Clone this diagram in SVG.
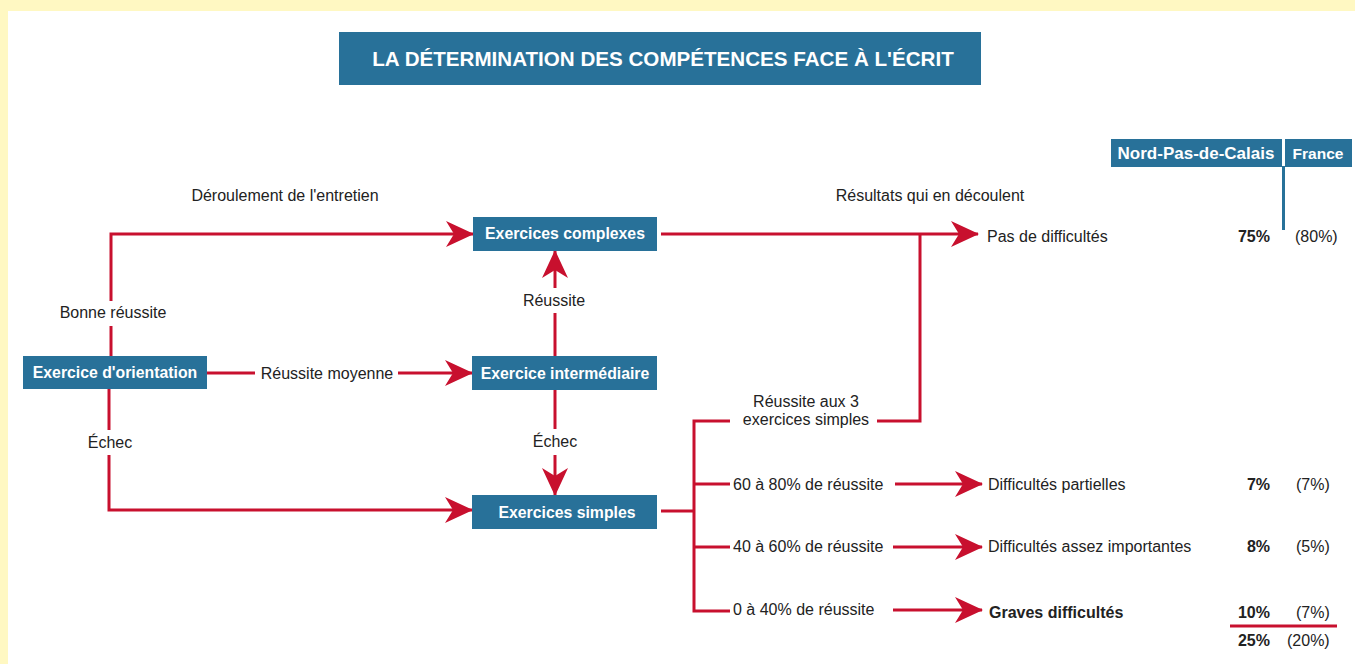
<svg xmlns="http://www.w3.org/2000/svg" width="1355" height="664" viewBox="0 0 1355 664">
<style>
.box{fill:#287199}
.nt{font-family:"Liberation Sans",Arial,sans-serif;font-weight:bold;font-size:15.8px;fill:#fff;text-anchor:middle}
.lb{font-family:"Liberation Sans",Arial,sans-serif;font-size:16px;fill:#222}
.mid{text-anchor:middle}
.b{font-weight:bold}
.ln{stroke:#c8102e;stroke-width:3;fill:none}
.ar{stroke:#c8102e;stroke-width:3;fill:none;marker-end:url(#ah)}
</style>
<defs>
<marker id="ah" viewBox="0 0 28 26" refX="27" refY="13" markerWidth="28" markerHeight="26" markerUnits="userSpaceOnUse" orient="auto">
<path d="M0,0 L28,13 L0,26 L8,13 Z" fill="#c8102e"/>
</marker>
</defs>
<rect x="0" y="0" width="1355" height="664" fill="#fff8c2"/>
<rect x="8" y="11" width="1347" height="653" fill="#fff"/>

<g id="title">
<rect class="box" x="339" y="32" width="642" height="53"/>
<text x="663" y="66" font-family="Liberation Sans,Arial,sans-serif" font-weight="bold" font-size="20.6" fill="#fff" text-anchor="middle">LA DÉTERMINATION DES COMPÉTENCES FACE À L'ÉCRIT</text>
</g>

<g id="headers">
<text class="lb mid" x="285" y="201">Déroulement de l'entretien</text>
<text class="lb mid" x="930" y="201">Résultats qui en découlent</text>
<rect class="box" x="1111" y="139" width="171" height="28"/>
<rect class="box" x="1285" y="139" width="67" height="28"/>
<rect class="box" x="1282" y="166" width="3" height="64"/>
<text x="1196" y="159" font-family="Liberation Sans,Arial,sans-serif" font-weight="bold" font-size="17" fill="#fff" text-anchor="middle">Nord-Pas-de-Calais</text>
<text x="1318" y="159" font-family="Liberation Sans,Arial,sans-serif" font-weight="bold" font-size="15.5" fill="#fff" text-anchor="middle">France</text>
</g>

<g id="connectors">
<path class="ln" d="M111,356 V326"/>
<path class="ar" d="M111,301 V234 H473"/>
<path class="ln" d="M109,389 V430"/>
<path class="ar" d="M109,455 V510 H472"/>
<path class="ln" d="M207,373 H255"/>
<path class="ar" d="M398,373 H472"/>
<path class="ln" d="M555,356 V313"/>
<path class="ar" d="M555,288 V251"/>
<path class="ln" d="M555,390 V429"/>
<path class="ar" d="M555,455 V495"/>
<path class="ar" d="M661,234 H978"/>
<path class="ln" d="M920,234 V421 H877"/>
<path class="ln" d="M661,511 H694"/>
<path class="ln" d="M730,421 H694 V611 H730"/>
<path class="ln" d="M694,484 H730"/>
<path class="ln" d="M694,547 H730"/>
<path class="ar" d="M895,484 H982"/>
<path class="ar" d="M893,547 H982"/>
<path class="ar" d="M893,610 H982"/>
<path d="M1230,626 H1337" stroke="#c8102e" stroke-width="3"/>
</g>

<g id="labels">
<text class="lb mid" x="113" y="318">Bonne réussite</text>
<text class="lb mid" x="110" y="448">Échec</text>
<text class="lb mid" x="327" y="379">Réussite moyenne</text>
<text class="lb mid" x="554" y="306">Réussite</text>
<text class="lb mid" x="555" y="447">Échec</text>
<text class="lb mid" x="806" y="407">Réussite aux 3</text>
<text class="lb mid" x="806" y="425">exercices simples</text>
<text class="lb" x="733" y="490">60 à 80% de réussite</text>
<text class="lb" x="733" y="552">40 à 60% de réussite</text>
<text class="lb" x="733" y="615">0 à 40% de réussite</text>
</g>

<g id="node-orientation">
<rect class="box" x="23" y="356" width="184" height="33"/>
<text class="nt" x="115" y="378">Exercice d'orientation</text>
</g>
<g id="node-complexes">
<rect class="box" x="473" y="217" width="184" height="34"/>
<text class="nt" x="565" y="239">Exercices complexes</text>
</g>
<g id="node-intermediaire">
<rect class="box" x="472" y="356" width="185" height="34"/>
<text class="nt" x="565" y="379">Exercice intermédiaire</text>
</g>
<g id="node-simples">
<rect class="box" x="472" y="495" width="185" height="34"/>
<text class="nt" x="567" y="518">Exercices simples</text>
</g>

<g id="results">
<text class="lb" x="987" y="242">Pas de difficultés</text>
<text class="lb" x="988" y="490">Difficultés partielles</text>
<text class="lb" x="988" y="552">Difficultés assez importantes</text>
<text class="lb b" x="989" y="618">Graves difficultés</text>
<text class="lb b" x="1270" y="242" text-anchor="end">75%</text>
<text class="lb b" x="1270" y="490" text-anchor="end">7%</text>
<text class="lb b" x="1270" y="552" text-anchor="end">8%</text>
<text class="lb b" x="1270" y="618" text-anchor="end">10%</text>
<text class="lb b" x="1270" y="646" text-anchor="end">25%</text>
<text class="lb" x="1295" y="242">(80%)</text>
<text class="lb" x="1296" y="490">(7%)</text>
<text class="lb" x="1296" y="552">(5%)</text>
<text class="lb" x="1296" y="618">(7%)</text>
<text class="lb" x="1287" y="646">(20%)</text>
</g>
</svg>
